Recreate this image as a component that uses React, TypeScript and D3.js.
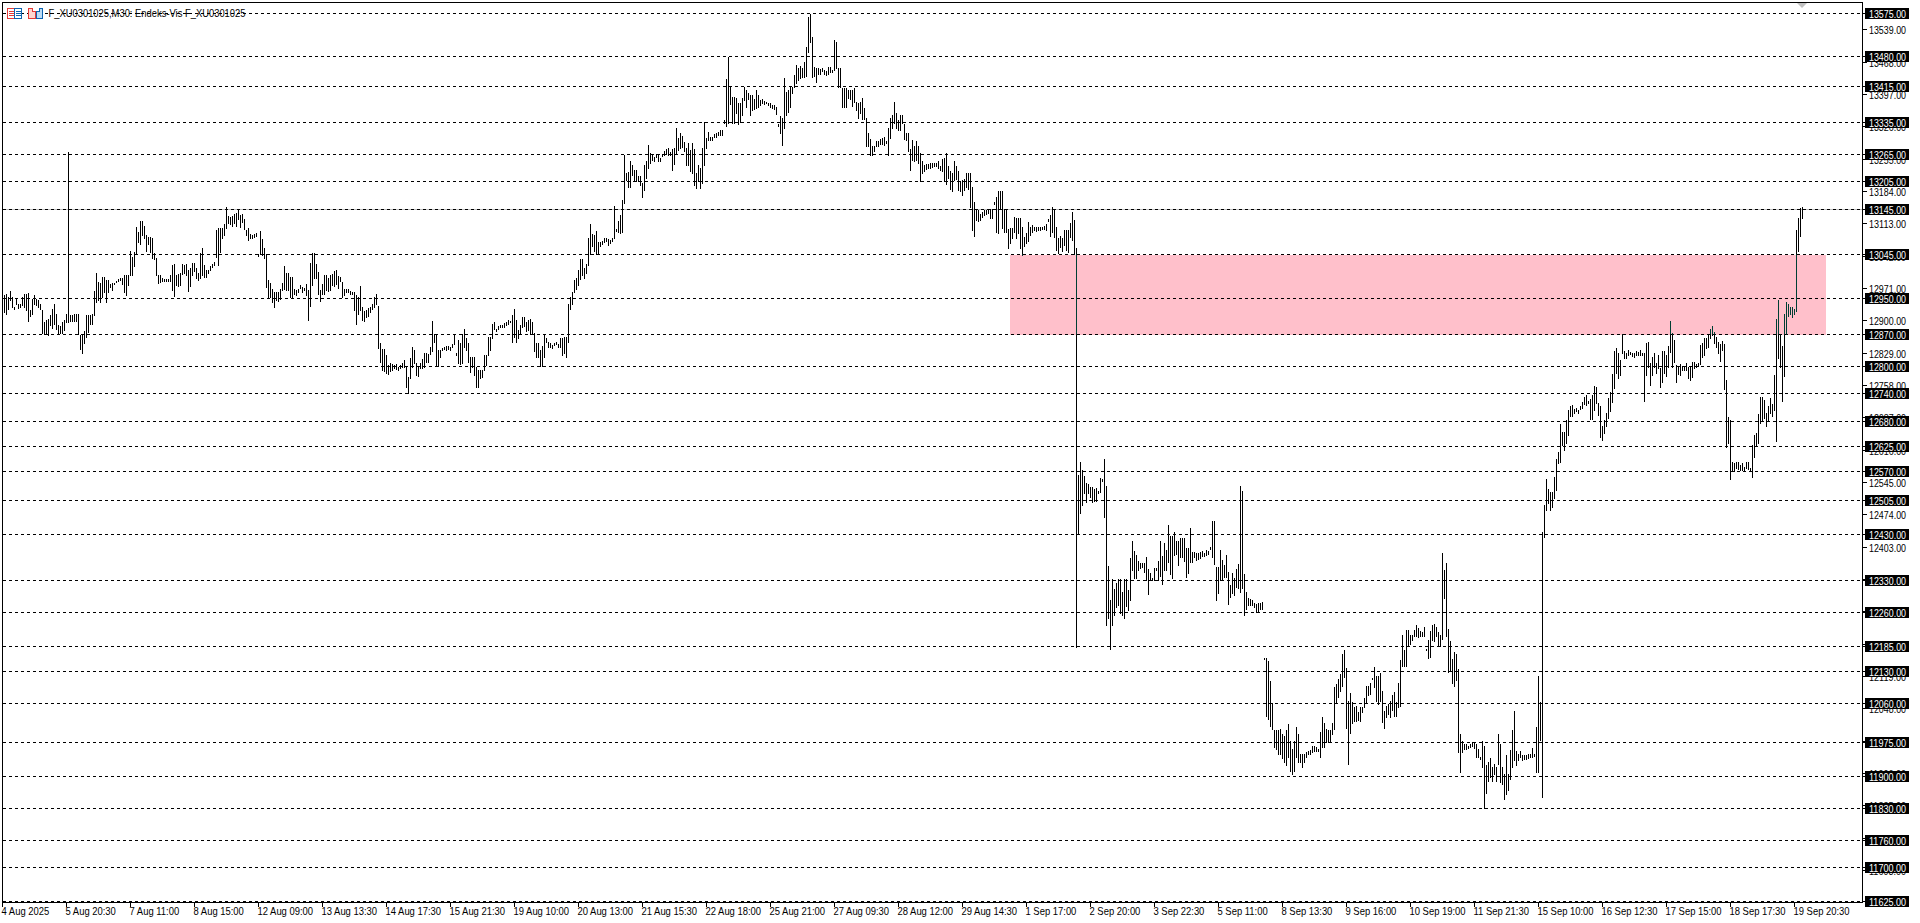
import React from "react";
import * as d3 from "d3";

const titleText = "F_XU0301025,M30:  Endeks-Vis F_XU0301025";
const zoneTop = 13045;
const zoneBottom = 12870;
const zoneStartBar = 504;
const zoneEndBar = 912;
const bidPrice = 13145;
const priceTop = 13575;
const priceBottom = 11625;

const levelPrices = [13575,13480,13415,13335,13265,13205,13145,13045,12950,12870,12800,12740,12680,12625,12570,12505,12430,12330,12260,12185,12130,12060,11975,11900,11830,11760,11700,11625];
const plainPrices = [13539,13468,13397,13326,13255,13184,13113,13042,12971,12900,12829,12758,12687,12616,12545,12474,12403,12332,12261,12190,12119,12048,11977,11906,11835,11764,11693];
const timeLabels = ["4 Aug 2025","5 Aug 20:30","7 Aug 11:00","8 Aug 15:00","12 Aug 09:00","13 Aug 13:30","14 Aug 17:30","15 Aug 21:30","19 Aug 10:00","20 Aug 13:00","21 Aug 15:30","22 Aug 18:00","25 Aug 21:00","27 Aug 09:30","28 Aug 12:00","29 Aug 14:30","1 Sep 17:00","2 Sep 20:00","3 Sep 22:30","5 Sep 11:00","8 Sep 13:30","9 Sep 16:00","10 Sep 19:00","11 Sep 21:30","15 Sep 10:00","16 Sep 12:30","17 Sep 15:00","18 Sep 17:30","19 Sep 20:30"];

// high, low pairs, one bar after another
const barsEarlyAug = [12955,12919,12955,12919,12959,12915,12951,12926,12964,12944,12951,12930,12930,12924,12948,12937,12937,12928,12935,12930,12951,12933,12957,12930,12959,12922,12960,12899,12922,12909,12948,12915,12955,12937,12948,12933,12944,12930,12937,12924,12922,12873,12897,12871,12900,12871,12904,12869,12911,12889,12924,12884,12935,12891,12915,12882,12889,12871,12887,12872,12897,12872,12900,12878,12915,12897,13270,12896,12911,12899,12911,12899,12913,12899,12915,12899,12915,12871,12869,12838,12871,12828,12876,12850,12911,12864,12911,12875,12911,12893,12915,12891,12965,12911,13003,12940,12984,12944];
const barsMidAug = [12981,12941,12996,12952,12996,12963,12989,12940,12989,12963,12979,12974,12981,12967,12981,12979,12986,12984,12990,12987,12992,12988,12994,12979,12999,12963,12999,12956,12999,12978,13052,12999,13040,12999,13051,13020,13106,13047,13093,13073,13118,13067,13118,13087,13108,13080,13087,13052,13084,13067,13084,13051,13082,13036,13047,13035,13036,12999,12999,12981,12999,12985,12992,12986,12991,12986,12991,12986,12991,12986,12999,12986,13022,12967,13024,12953,12999,12978,13001,12976,13003,12978,13023,13001,13022,13003,13023,12999,13011,12964,13014,12976,13025,12999,13025,13008,13014,12992,13005,12989,13049,12992,13058,12999,13022,12996,13011,12996,13011,13003,13019,13011,13023,13018,13029,13022,13098,13040,13102,13022,13102,13051,13102,13080,13111,13087,13148,13102,13129,13113,13126,13111,13130,13108,13133,13113,13135,13108,13142,13123,13131,13104,13133,13117,13123,13100,13098,13087,13102,13076,13090,13080,13087,13080,13089,13083,13091,13086,13045,13042,13096,13045,13079,13044,13060,13036,13045,12974,12989,12952,12981,12952,12970,12940,12963,12930,12963,12945,12963,12943,12970,12948,12981,12967,13019,12970,13003,12967,13005,12967,12996,12951,12996,12951,12969,12957,12967,12956,12970,12963,12978,12972,12974,12963,12972,12967,12979,12956,12967,12901,13025,12932,13047,12978,13047,12992,13024,12992,13007,12957,12967,12943,12979,12959,12999,12959,12999,12967,12992,12964,12999,12967,13001,12978,13008,12976,13011,12979,12998,12972,12996,12986,12984,12951,12970,12956,12969,12963,12968,12962,12964,12959,12963,12957,12963,12923,12956,12891,12952,12915,12975,12923,12930,12901,12921,12899,12923,12908,12927,12910,12930,12919,12937,12926,12951,12930,12959,12937,12931,12839,12850,12809,12837,12790,12837,12789,12823,12785,12801,12782,12807,12789,12805,12790,12801,12796,12805,12794,12798,12790];
const barsLateAug = [12802,12795,12806,12797,12813,12797,12798,12754,12776,12740,12817,12773,12842,12798,12836,12806,12806,12780,12798,12778,12806,12795,12815,12795,12828,12798,12828,12809,12826,12809,12842,12826,12899,12833,12871,12853,12870,12802,12835,12800,12835,12819,12839,12835,12842,12838,12844,12836,12844,12838,12842,12835,12848,12841,12871,12848,12828,12823,12857,12806,12850,12804,12871,12806,12881,12842,12861,12835,12850,12809,12819,12786,12820,12798,12819,12780,12798,12754,12791,12754,12791,12773,12791,12776,12824,12792,12824,12802,12864,12824,12864,12835,12892,12861,12897,12882,12882,12877,12888,12880,12890,12885,12890,12886,12895,12886,12897,12890,12901,12892,12899,12897,12912,12853,12926,12864,12901,12853,12879,12861,12890,12871,12907,12886,12907,12888,12897,12877,12901,12879,12904,12871,12897,12870,12873,12833,12850,12820,12850,12819,12835,12800,12844,12800,12870,12820,12861,12853,12853,12842,12851,12842,12846,12839,12851,12846,12853,12848,12848,12842,12861,12842,12861,12824,12863,12828,12863,12819,12937,12853,12952,12926,12963,12936,12989,12963,12994,12970,13011,12978,13034,12990,13034,13000,13014,12992,13024,13005,13082,13022,13112,13046,13090,13063,13087,13053,13096,13045,13073,13045,13073,13063,13074,13068,13082,13073,13080,13075,13078,13065,13076,13069,13080,13075,13151,13082,13100,13096,13119,13093,13131,13091,13164,13093,13263,13157,13223,13208,13225,13194,13249,13194,13241,13219,13230,13205,13230,13205,13216,13205,13217,13197,13201,13172,13241,13186,13249,13212,13285,13234,13267,13245,13265,13252,13259,13249,13265,13259,13265,13249,13256,13251,13265,13261,13273,13263,13276,13265,13278,13263,13270,13263,13276,13230,13278,13243,13322,13265,13300,13274,13311,13278,13304,13281,13292,13273,13278,13241,13289,13241,13274,13227,13289,13223,13276,13197,13223,13190,13241,13205,13234,13190,13278,13201,13335,13241,13300,13278,13314,13296,13303,13296,13303,13297,13309,13303,13312,13303,13314,13307,13317,13307,13318,13306];
const barsPeak = [13340,13334,13429,13327,13478,13333,13413,13375,13390,13333,13390,13333,13388,13355,13377,13331,13378,13336,13388,13351,13412,13383,13406,13369,13400,13386,13395,13351,13395,13362,13386,13364,13405,13366,13395,13369,13384,13373,13386,13377,13382,13375,13380,13377,13378,13373,13377,13368,13373,13366,13373,13364,13369,13353,13331,13327,13349,13312,13344,13285,13432,13322,13402,13351,13405,13358,13412,13368,13413,13399,13439,13413,13461,13422,13454,13428,13459,13432,13454,13435,13468,13435,13501,13437,13567,13490,13573,13512,13522,13435,13457,13437,13454,13424,13454,13441,13451,13441,13454,13448,13450,13441,13448,13439,13457,13441,13457,13446,13450,13446,13516,13450,13512,13454,13454,13412,13454,13413,13410,13368,13410,13368,13410,13369,13407,13388,13407,13386,13407,13371,13410,13380,13380,13361,13378,13344,13380,13355,13388,13342,13366,13342,13344,13283,13311,13283,13298,13263,13282,13263,13282,13273,13293,13283,13295,13283,13298,13287,13300,13287,13302,13285,13295,13290,13322,13263,13344,13300,13351,13322,13379,13333,13356,13322,13339,13317,13351,13318,13351,13333,13331,13298,13312,13296,13312,13273,13276,13230,13296,13252,13282,13249,13293,13252,13282,13245,13268,13205,13249,13224,13241,13227,13243,13232,13243,13234,13245,13235,13245,13236,13246,13238,13246,13239,13251,13234,13238,13230,13254,13227,13256,13205,13268,13200,13238,13212,13227,13188,13224,13185,13249,13208,13239,13210,13227,13186,13205,13185,13208,13175,13210,13186,13224,13194,13224,13188,13224,13150,13194,13099,13161,13085,13144,13121,13142,13119,13134,13121,13137,13126,13142,13131,13142,13134,13144,13135,13144,13124,13144,13124,13161,13156,13172,13095,13185,13091,13185,13144,13185,13102,13144,13095,13144,13095,13100,13058,13102,13069,13102,13080,13128,13095,13124,13080,13124,13091,13124,13058,13104,13044,13084,13063,13091,13069,13115,13075,13106,13088,13110,13095,13106,13099,13104,13097,13104,13099,13104,13099,13106,13100,13107,13100,13112,13099,13122,13118,13131,13085,13150,13095,13144,13084,13106,13055,13082,13049,13085,13062,13082,13053,13099,13066,13099,13055,13099,13051,13113,13084,13137,13077,13120,13045,13060,12183];
const barsEarlySep = [12561,12430,12588,12476,12572,12495,12558,12522,12542,12502,12540,12520,12535,12513,12534,12502,12529,12504,12531,12504,12526,12520,12553,12524,12551,12548,12595,12469,12536,12230,12361,12246,12285,12179,12332,12230,12310,12253,12323,12271,12332,12275,12332,12257,12304,12253,12332,12246,12332,12273,12308,12264,12379,12286,12416,12352,12394,12334,12385,12334,12372,12351,12367,12356,12367,12358,12368,12348,12380,12330,12354,12299,12346,12330,12334,12329,12356,12330,12356,12352,12372,12329,12416,12339,12383,12321,12412,12352,12396,12352,12451,12370,12427,12343,12427,12334,12436,12385,12416,12387,12416,12363,12422,12380,12422,12380,12422,12372,12400,12337,12400,12346,12444,12370,12392,12370,12392,12380,12389,12374,12389,12375,12392,12378,12394,12383,12389,12383,12396,12384,12394,12387,12402,12399,12460,12381,12460,12364,12359,12286,12358,12302,12396,12329,12373,12330,12363,12336,12385,12336,12348,12277,12319,12293,12346,12302,12334,12297,12353,12314,12365,12312,12536,12304,12526,12313,12343,12253,12304,12266,12290,12275,12288,12275,12285,12275,12280,12270,12277,12260,12280,12260,12280,12266,12282,12266];
const barsMidSep = [12159,12156,12159,12031,12151,12024,12109,12009,12059,12002,12000,11963,12000,11959,12000,11948,12003,11947,11991,11938,11988,11930,12000,11923,12013,11941,11977,11910,11959,11904,11977,11910,12007,11941,11991,11930,11948,11930,11948,11920,11947,11930,11952,11942,11955,11947,11957,11948,11966,11952,11966,11955,11963,11954,11959,11954,11996,11942,12030,11963,12016,11964,12003,11974,12000,11974,12000,11974,12016,11992,12096,12003,12102,12060,12113,12073,12124,12086,12168,12098,12177,12117,12137,12005,12064,11925,12082,11994,12062,12016,12051,12021,12054,12020,12040,12023,12051,12021,12051,12041,12070,12051,12098,12059,12098,12078,12103,12080,12115,12112,12138,12096,12120,12065,12120,12058,12126,12065,12087,12018,12043,12005,12054,12029,12058,12036,12065,12029,12078,12045,12085,12032,12062,12032,12104,12051,12155,12054,12210,12140,12177,12142,12221,12142,12221,12188,12210,12190,12210,12199,12220,12208,12231,12208,12225,12204,12218,12208,12215,12208,12226,12208,12179,12177,12199,12159,12219,12160,12230,12199,12234,12197,12226,12206,12215,12186,12210,12186,12390,12201,12351,12290,12368,12206,12223,12128,12197,12130,12157,12103,12171,12098,12168,12111,12135,11952,11991,11908,11977,11952,11970,11959,11969,11959,11966,11961,11969,11963,11974,11966,11972,11961,11969,11941,11959,11941,11941,11937,11976,11920,11966,11830,11923,11862,11930,11888,11939,11898,11919,11888,11925,11904,11920,11888,11991,11926,11970,11886,11920,11881,11904,11849,11945,11860,11904,11868,11957,11893,12000,11920,12043,11934,11954,11923,11947,11935,11954,11941,11945,11935,11945,11937,11945,11937,11947,11939,11947,11941,11961,11941,11947,11944,12008,11908,12118,11908,12063,11979,12435,11853,12495,12424];
const barsLateSep = [12551,12484,12530,12498,12524,12484,12524,12491,12557,12509,12595,12527,12612,12586,12672,12588,12654,12626,12654,12615,12681,12630,12703,12648,12712,12689,12714,12689,12705,12697,12707,12700,12703,12697,12712,12705,12721,12707,12731,12716,12736,12714,12723,12718,12727,12683,12736,12683,12756,12703,12754,12718,12719,12692,12712,12645,12667,12637,12681,12652,12696,12667,12729,12685,12743,12700,12782,12721,12833,12751,12839,12785,12828,12773,12814,12780,12870,12828,12833,12817,12829,12817,12835,12824,12831,12826,12829,12822,12828,12819,12832,12824,12831,12824,12836,12824,12828,12824,12828,12724,12851,12780,12853,12797,12806,12758,12820,12780,12828,12797,12807,12785,12824,12795,12795,12753,12833,12765,12833,12784,12824,12778,12844,12798,12899,12831,12872,12798,12857,12809,12802,12765,12798,12782,12804,12780,12800,12791,12798,12790,12806,12790,12798,12773,12797,12769,12809,12776,12809,12795,12804,12798,12806,12800,12846,12804,12851,12820,12861,12824,12861,12839,12868,12842,12880,12861,12888,12868,12875,12850,12864,12842,12853,12829,12848,12811,12855,12835,12848,12749,12770,12621,12687,12630,12681,12551,12590,12570,12586,12570,12588,12575,12588,12573,12582,12571,12586,12571,12579,12570,12588,12575,12590,12573,12575,12570,12626,12557,12648,12599,12653,12624,12694,12630,12731,12674,12731,12678,12725,12685,12696,12667,12712,12681,12729,12696,12716,12690,12780,12703,12904,12636,12945,12818,12870,12798,12844,12724,12914,12778,12940,12870,12937,12910,12930,12915,12929,12907,12926,12914,13098,12921,13124,13053,13146,13085,13148,13124];

const W = 1920, H = 923;
const FONT = "'Liberation Sans', sans-serif";
const barFlat = [...barsEarlyAug, ...barsMidAug, ...barsLateAug, ...barsPeak, ...barsEarlySep, ...barsMidSep, ...barsLateSep];
const bars = d3.range(0, Math.floor(barFlat.length / 2)).map((i) => ({ i, hi: barFlat[2 * i], lo: barFlat[2 * i + 1] }));

const LEFT = 2, RIGHT = 1862, TOP = 2, BOTTOM = 902;
const x = d3.scaleLinear().domain([0, 900]).range([2, 1802]);
const yRaw = d3.scaleLinear().domain([priceTop, priceBottom]).range([13, 901]);
const y = (p: number) => Math.round(yRaw(p)) + 0.5;
const tickBars = d3.range(0, timeLabels.length).map((k) => k * 32);

function BarsPath({ color, clip }: { color: string; clip?: string }) {
  const path = d3.path();
  bars.forEach((b) => {
    const px = x(b.i) + 0.5;
    path.moveTo(px, Math.round(yRaw(b.hi)));
    path.lineTo(px, Math.round(yRaw(b.lo)) + 1);
  });
  return <path d={path.toString()} stroke={color} strokeWidth={1} fill="none" shapeRendering="crispEdges" clipPath={clip} />;
}

export default function App() {
  const zoneX = x(zoneStartBar);
  const zoneW = x(zoneEndBar) - zoneX;
  const zoneY = y(zoneTop);
  const zoneH = y(zoneBottom) - zoneY;
  return (
    <svg width={W} height={H} viewBox={`0 0 ${W} ${H}`} style={{ position: "absolute", left: 0, top: 0, background: "#fff", display: "block" }}>
      <defs>
        <clipPath id="zoneClip"><rect x={zoneX} y={zoneY} width={zoneW} height={zoneH} /></clipPath>
      </defs>
      <rect x={zoneX} y={zoneY} width={zoneW} height={zoneH} fill="#FFC0CB" shapeRendering="crispEdges" />
      <line x1={LEFT} x2={RIGHT} y1={y(bidPrice)} y2={y(bidPrice)} stroke="#c0c0c0" shapeRendering="crispEdges" />
      {levelPrices.map((p) => (
        <line key={p} x1={LEFT + 1} x2={RIGHT} y1={y(p)} y2={y(p)} stroke="#000" strokeDasharray="3 3" shapeRendering="crispEdges" />
      ))}
      <BarsPath color="#000" />
      <BarsPath color="#003f34" clip="url(#zoneClip)" />
      <polygon points={`${x(900) - 5},3 ${x(900) + 5},3 ${x(900)},8`} fill="#c0c0c0" />
      <g shapeRendering="crispEdges">
        <rect x={7.5} y={8.5} width={7} height={10} fill="#fff" stroke="#e53935" />
        <rect x={14.5} y={8.5} width={7} height={10} fill="#fff" stroke="#0d63b0" />
        <path d="M9 11.5h5M9 13.5h5M9 15.5h5" stroke="#e53935" />
        <path d="M16 11.5h5M16 13.5h5M16 15.5h5" stroke="#0d63b0" />
        <path d="M28.5 8.5h4v3h3v7h-7z" fill="#ffd6d0" stroke="#e53935" />
        <path d="M36.5 11.5h3v-3h3v10h-6z" fill="#bcdcf5" stroke="#0d63b0" />
      </g>
      <text x={48.5} y={17} fontFamily={FONT} fontSize={10.5} fill="#000" textLength={197} lengthAdjust="spacingAndGlyphs">{titleText}</text>
      <path d={`M${LEFT + 0.5} ${BOTTOM + 0.5}V${TOP + 0.5}H${RIGHT + 0.5}V${BOTTOM + 0.5}H${LEFT + 0.5}`} fill="none" stroke="#000" shapeRendering="crispEdges" />
      {plainPrices.map((p) => (
        <g key={p}>
          <line x1={RIGHT} x2={RIGHT + 5} y1={y(p)} y2={y(p)} stroke="#000" shapeRendering="crispEdges" />
          <text x={1869} y={y(p) + 4} fontFamily={FONT} fontSize={10.5} fill="#000" textLength={37} lengthAdjust="spacingAndGlyphs">{p.toFixed(2)}</text>
        </g>
      ))}
      {levelPrices.map((p) => (
        <g key={p}>
          <line x1={RIGHT} x2={RIGHT + 4} y1={y(p)} y2={y(p)} stroke="#000" shapeRendering="crispEdges" />
          <rect x={1865} y={y(p) - 5.5} width={44} height={11} fill="#000" shapeRendering="crispEdges" />
          <text x={1869} y={y(p) + 4} fontFamily={FONT} fontSize={10.5} fill="#fff" textLength={37} lengthAdjust="spacingAndGlyphs">{p.toFixed(2)}</text>
        </g>
      ))}
      {timeLabels.map((t, k) => (
        <g key={t}>
          <line x1={x(tickBars[k]) + 0.5} x2={x(tickBars[k]) + 0.5} y1={BOTTOM} y2={BOTTOM + 5} stroke="#000" shapeRendering="crispEdges" />
          <text transform={`translate(${x(tickBars[k]) - 0.5},915) scale(0.9,1)`} fontFamily={FONT} fontSize={10.5} fill="#000">{t}</text>
        </g>
      ))}
    </svg>
  );
}
